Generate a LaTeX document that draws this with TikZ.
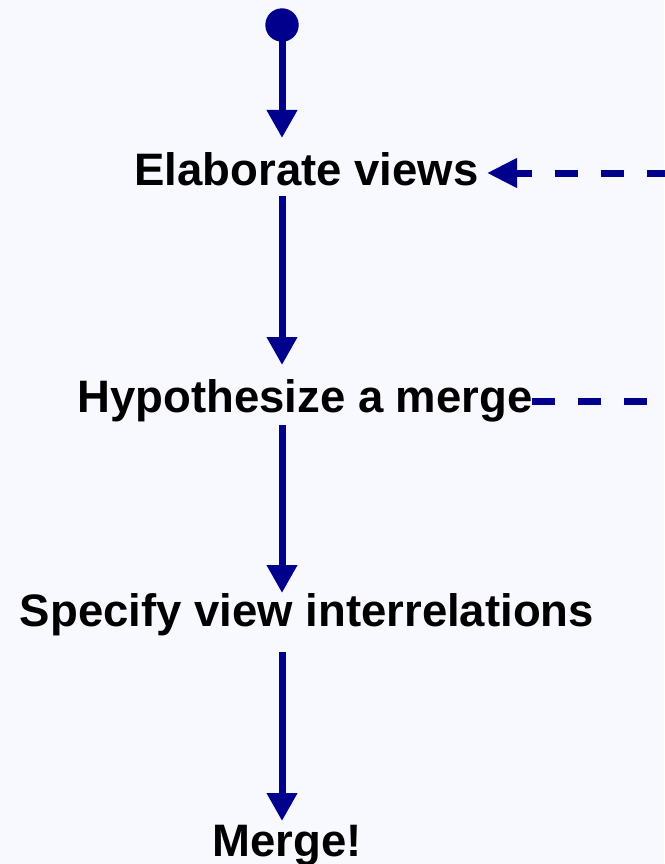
\documentclass[tikz,border=0pt]{standalone}
\usepackage{fontspec}
\setmainfont{Liberation Sans}
\usetikzlibrary{arrows.meta}
\definecolor{bg}{RGB}{248,248,255}
\definecolor{flowblue}{RGB}{0,0,140}
\begin{document}
\begin{tikzpicture}[x=1pt,y=-1pt,
  lbl/.style={anchor=base,inner sep=0pt,font=\fontsize{45.5}{54}\selectfont\bfseries,text=black},
  flow/.style={draw=flowblue,line width=7pt,-{Triangle[length=28pt,width=29pt]}},
  fb/.style={draw=flowblue,line width=7pt,dash pattern=on 23pt off 23pt},
  fbarrow/.style={fb,-{Triangle[length=30pt,width=28pt]}}]
\fill[bg] (0,0) rectangle (664,864);
\useasboundingbox (0,0) rectangle (664,864);
\node[circle,fill=flowblue,minimum size=33.4pt,inner sep=0pt] (start) at (282,25) {};
\node[lbl] (elab) at (306.5,185) {Elaborate views};
\node[lbl] (hyp) at (305,412.7) {Hypothesize a merge};
\node[lbl] (spec) at (307,626.7) {Specify view interrelations};
\node[lbl] (merge) at (287,856) {Merge!};
\coordinate (t1) at (282,138);
\coordinate (s2) at (282,196);
\coordinate (t2) at (282,365);
\coordinate (s3) at (282,425);
\coordinate (t3) at (282,593);
\coordinate (s4) at (282,652);
\coordinate (t4) at (282,821);
\coordinate (elabin) at (487,173);
\coordinate (hypout) at (532,401);
\coordinate (farright) at (669.5,173);
\coordinate (farright2) at (700,401);
\draw[flow] (start.center) -- (t1);
\draw[flow] (s2) -- (t2);
\draw[flow] (s3) -- (t3);
\draw[flow] (s4) -- (t4);
\draw[fbarrow] (farright) -- (elabin);
\draw[fb] (hypout) -- (farright2);
\end{tikzpicture}
\end{document}
